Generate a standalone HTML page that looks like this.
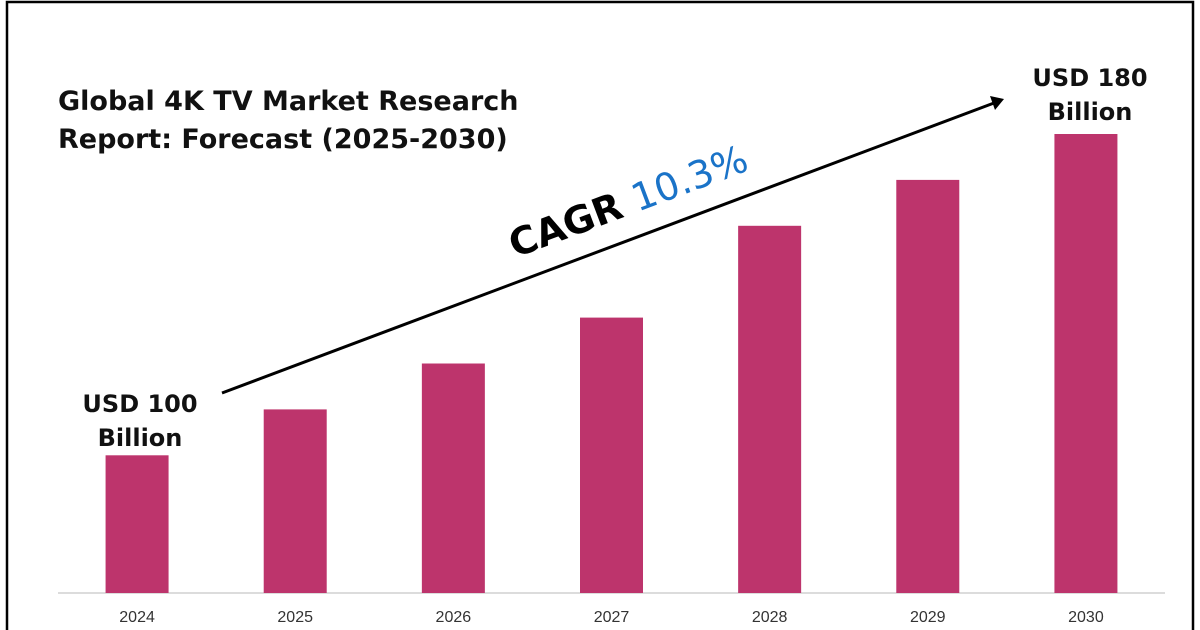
<!DOCTYPE html>
<html><head><meta charset="utf-8"><style>
body{margin:0;background:#fff;}
svg{display:block;font-family:"DejaVu Sans","Liberation Sans",sans-serif;}
</style></head><body>
<svg width="1200" height="630" viewBox="0 0 1200 630">
<rect x="7" y="2" width="1186" height="640" fill="none" stroke="#000" stroke-width="2.5"/>
<text x="58" y="110" font-size="27" font-weight="bold" fill="#111">Global 4K TV Market Research</text>
<text x="58" y="148" font-size="27" font-weight="bold" fill="#111">Report: Forecast (2025-2030)</text>
<line x1="58" y1="593" x2="1165" y2="593" stroke="#d0d0d0" stroke-width="1.5"/>
<g id="bars"></g>
<g id="labels"></g>
<line x1="222" y1="393" x2="994" y2="103" stroke="#000" stroke-width="3"/>
<polygon points="1004,99 990,96 995,110" fill="#000"/>
<text transform="translate(515,258) rotate(-20.6)" font-size="38"><tspan font-weight="bold" fill="#000">CAGR </tspan><tspan fill="#1a73c8">10.3%</tspan></text>
<text x="140" y="412" font-size="24" font-weight="bold" text-anchor="middle" fill="#111">USD 100</text>
<text x="140" y="446" font-size="24" font-weight="bold" text-anchor="middle" fill="#111">Billion</text>
<text x="1090" y="86" font-size="24" font-weight="bold" text-anchor="middle" fill="#111">USD 180</text>
<text x="1090" y="120" font-size="24" font-weight="bold" text-anchor="middle" fill="#111">Billion</text>
<script>
const categories=["2024","2025","2026","2027","2028","2029","2030"];
const values=[30,40,50,60,80,90,100];
const x0=58,x1=1165,base=593,pxPerUnit=4.59,barW=63;
const band=(x1-x0)/categories.length;
function xc(i){return x0+band*(i+0.5);}
function y(v){return base-v*pxPerUnit;}
const ns="http://www.w3.org/2000/svg";
const gb=document.getElementById('bars'),gl=document.getElementById('labels');
categories.forEach((c,i)=>{
 const r=document.createElementNS(ns,'rect');
 r.setAttribute('x',xc(i)-barW/2);r.setAttribute('y',y(values[i]));
 r.setAttribute('width',barW);r.setAttribute('height',base-y(values[i]));
 r.setAttribute('fill','#bd346c');
 
 
 gb.appendChild(r);
 const t=document.createElementNS(ns,'text');
 t.setAttribute('x',xc(i));t.setAttribute('y',622);
 t.setAttribute('text-anchor','middle');t.setAttribute('font-size','16');t.setAttribute('fill','#333');
 t.setAttribute('font-family','"Liberation Sans",sans-serif');
 t.textContent=c;
 
 
 gl.appendChild(t);
});
</script>
</svg>
</body></html>
